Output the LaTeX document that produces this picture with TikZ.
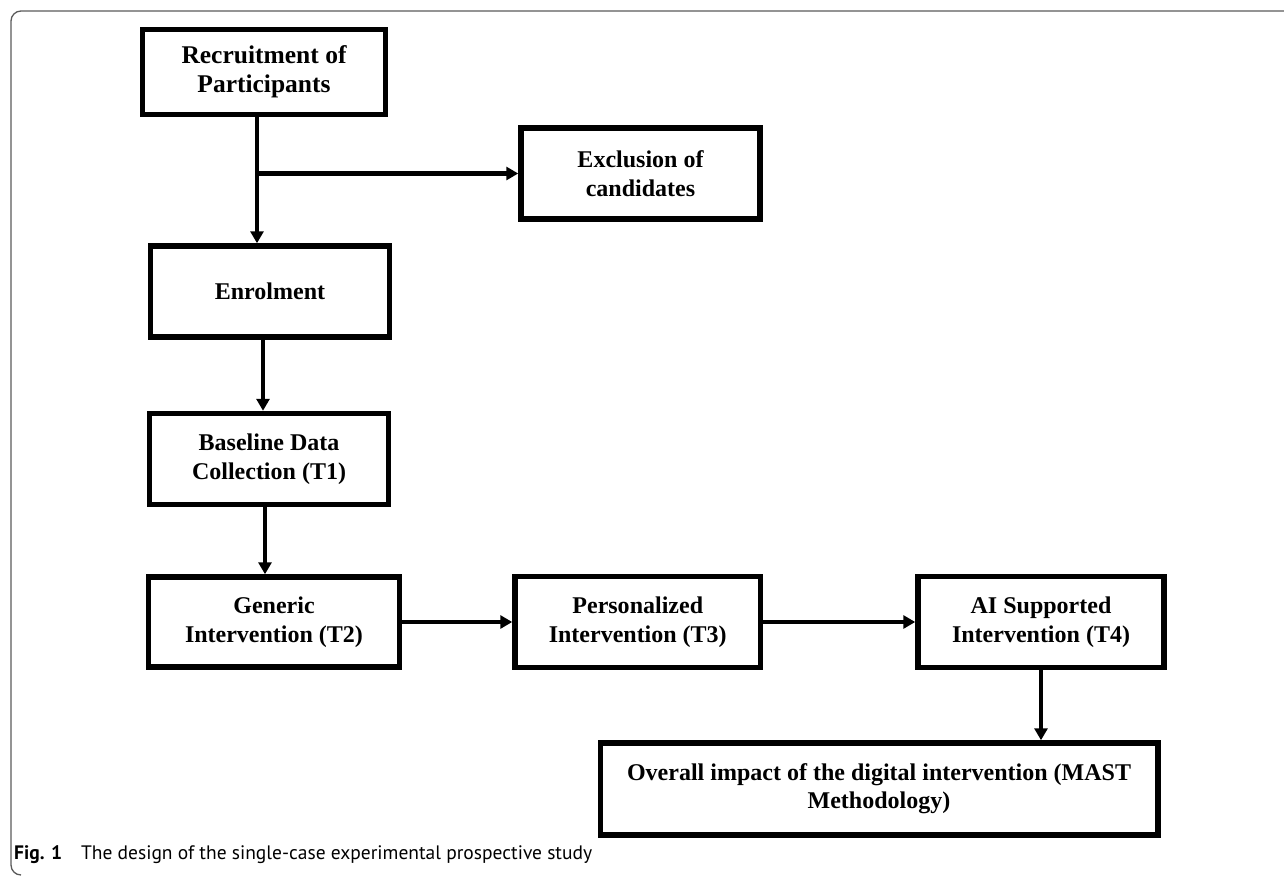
\documentclass[tikz,border=0pt]{standalone}
\usepackage{fontspec}
\setmainfont{Liberation Serif}
\newfontfamily\capfont{PT Sans}
\usepackage{tikz}
\usetikzlibrary{arrows.meta,calc,positioning}
\definecolor{framegray}{RGB}{90,90,90}
\tikzstyle{block} = [rectangle, draw, line width=5.5pt, align=center, inner sep=4pt,
font=\bfseries\fontsize{24}{29}\selectfont, minimum width=239pt, minimum height=91pt]
\tikzstyle{line} = [draw, line width=4.5pt, -{Triangle[length=12pt,width=13pt]}]
\tikzstyle{frame} = [draw=framegray, line width=1.3pt]

\begin{document}
\begin{tikzpicture}
\useasboundingbox (0,0) rectangle (1284pt,-875pt);
\path [frame] (1284pt,-11pt) -- (21pt,-11pt) arc [start angle=90, end angle=180, radius=10pt]
  -- (11pt,-865pt) arc [start angle=180, end angle=270, radius=10pt];

\node [block, minimum width=243pt, minimum height=85pt,
  font=\bfseries\fontsize{25.5}{29}\selectfont] (recruit) at (264pt,-72pt) {Recruitment of\\ Participants};
\node [block, below right = 8pt and 130pt of recruit] (exclude) {Exclusion of\\ candidates};
\node [block, below = 126pt of recruit, xshift=6pt] (enrol) {Enrolment};
\node [block, below = 71pt of enrol, xshift=-1pt] (baseline) {Baseline Data\\ Collection (T1)};
\node [block, below = 67pt of baseline, xshift=5pt, minimum width=251pt, minimum height=90pt] (generic) {Generic\\ Intervention (T2)};
\node [block, right = 110pt of generic, minimum width=245.5pt] (personal) {Personalized\\ Intervention (T3)};
\node [block, right = 152pt of personal, minimum width=246pt] (aisupp) {AI Supported\\ Intervention (T4)};
\node [block, below = 70pt of aisupp, xshift=-162pt, minimum width=557.5pt, minimum height=92pt,
  font=\bfseries\fontsize{24}{28}\selectfont] (overall) {Overall impact of the digital intervention (MAST\\ Methodology)};
\node [anchor=base west, inner sep=0pt, font=\capfont\fontsize{19.5}{22}\selectfont] (caption) at (14pt,-859pt)
  {\textbf{Fig. 1}\hspace{0.7em} The design of the single-case experimental prospective study};

\coordinate (split) at ([xshift=-7pt]recruit.south |- exclude.west);
\path [line] ([xshift=-7pt]recruit.south) -- ([xshift=-7pt]recruit.south |- enrol.north);
\path [line] (split) -- (exclude.west);
\path [line] ([xshift=-7pt]enrol.south) -- ([xshift=-7pt]enrol.south |- baseline.north);
\path [line] ([xshift=-4pt]baseline.south) -- ([xshift=-4pt]baseline.south |- generic.north);
\path [line] (generic) -- (personal);
\path [line] (personal) -- (aisupp);
\path [line] (aisupp) -- (aisupp |- overall.north);
\end{tikzpicture}
\end{document}
